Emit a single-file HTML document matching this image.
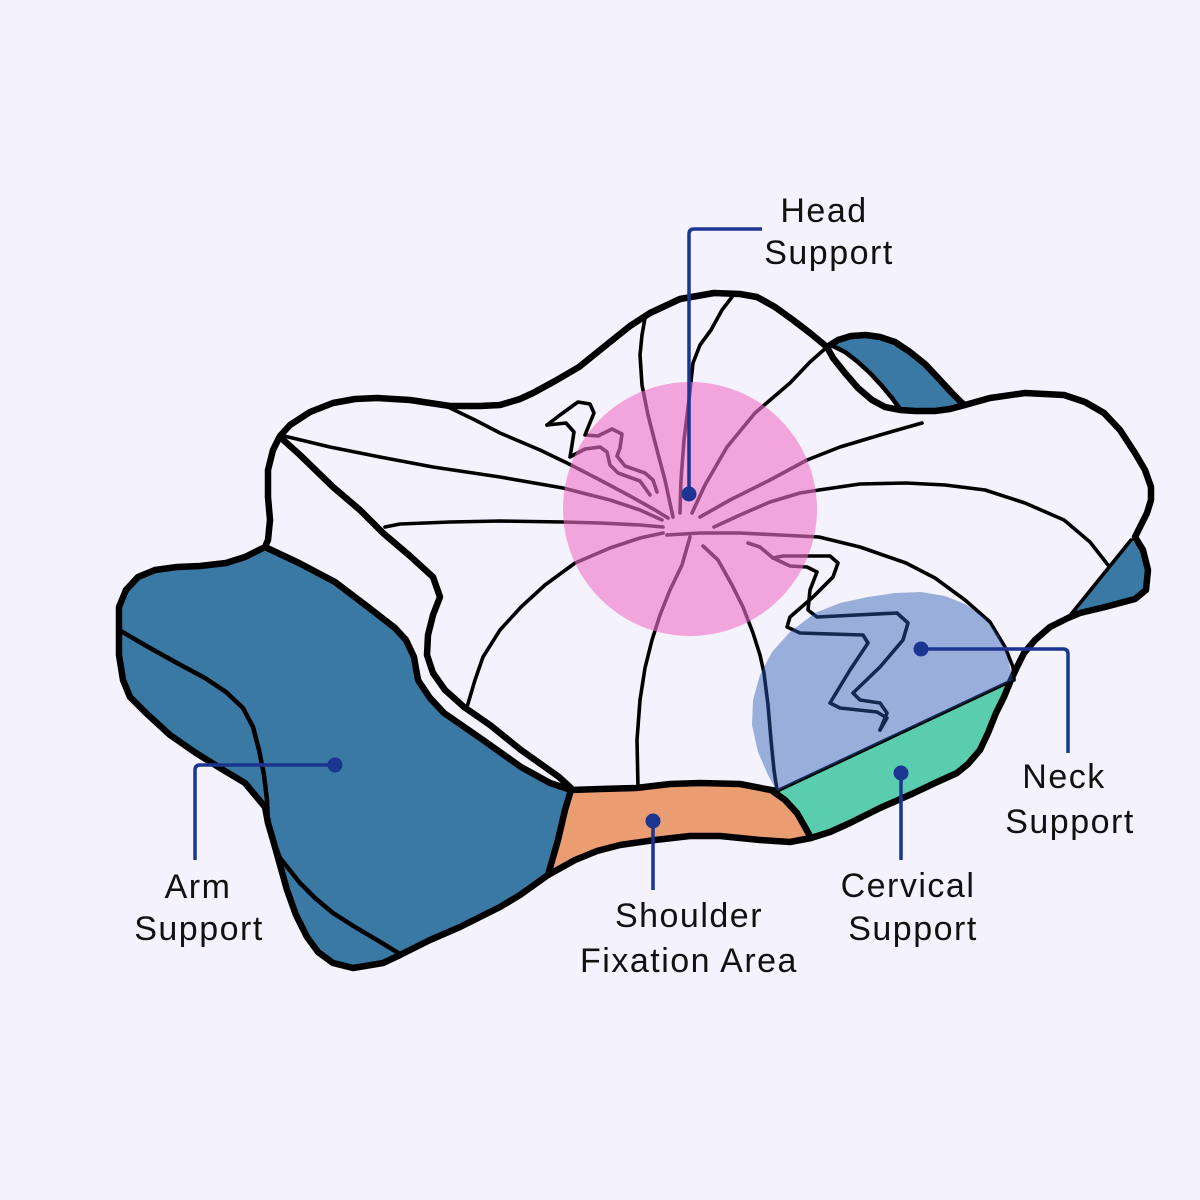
<!DOCTYPE html>
<html><head><meta charset="utf-8"><style>
html,body{margin:0;padding:0;background:#f4f3fd;}
svg{display:block;}
text{font-family:"Liberation Sans",sans-serif;font-size:34px;letter-spacing:1.5px;fill:#111;}
</style></head><body>
<svg width="1200" height="1200" viewBox="0 0 1200 1200" xmlns="http://www.w3.org/2000/svg">
<rect width="1200" height="1200" fill="#f4f3fd"/>

<!-- fills -->
<polygon fill="#3a79a3" points="265,547 299,563 335,582 368,607 395,628 406,640 414,657 418,680 430,698 444,713 483,740 521,767 550,783 571,790 565,810 558,840 548,875 520,895 500,907 460,927 430,940 400,955 383,963 353,968 333,963 318,952 307,937 296,915 287,890 280,865 273,840 268,823 265,807 245,783 220,768 196,753 170,735 146,713 130,697 123,680 119,655 119,630 119,607 126,590 138,577 155,570 177,567 200,566 226,563 245,557"/>
<polygon fill="#eb9d72" points="571,790 600,789 636,788 670,784 700,783 740,784 771,790 785,800 797,813 805,827 811,838 790,842 760,840 720,836 690,836 655,840 620,845 597,851 575,860 548,875 558,840 565,810"/>
<polygon fill="#5bcdaf" points="777,791 1013,680 1011,680 1004,697 996,713 988,733 980,750 968,764 957,773 935,783 914,793 880,808 850,823 830,832 811,838 805,827 797,813 785,800"/>
<polygon fill="#3a79a3" points="831,345 838,340 851,336 866,335 880,337 895,342 910,352 925,364 940,380 952,393 962,403 965,405 950,409 935,411 915,411 900,409 892,398 882,386 870,373 858,362 845,352"/>
<polygon fill="#3a79a3" points="1131,540 1135,537 1143,550 1148,570 1146,590 1135,599 1105,607 1080,613 1068,618"/>

<!-- thin radiating lines -->
<g fill="none" stroke="#000" stroke-width="3.6" stroke-linejoin="round" stroke-linecap="round">
<polyline points="280,435 330,447 380,457 433,467 500,477 563,488 610,500 640,510 662,520"/>
<polyline points="450,408 475,420 500,433 540,450 567,463 600,480 630,496 655,510 668,518"/>
<polyline points="385,527 400,524 450,522 500,521 563,522 600,523 640,525 663,527"/>
<polyline points="467,707 475,680 483,657 500,630 521,607 545,585 575,563 610,548 640,538 663,533"/>
<polyline points="690,537 682,565 670,590 660,615 652,640 645,668 640,700 637,740 638,788"/>
<polyline points="703,546 718,560 732,585 743,607 753,633 760,655 764,673 768,705 771,740 774,770 777,790"/>
<polyline points="667,535 700,533 740,533 780,535 819,537 860,547 906,563 935,578 965,600 990,622 1005,647 1013,667 1014,680"/>
<polyline points="714,527 740,515 770,502 800,493 819,490 860,484 906,483 945,485 985,490 1025,503 1064,520 1090,542 1108,565"/>
<polyline points="700,517 730,500 770,480 807,460 840,447 880,435 922,423"/>
<polyline points="692,513 705,485 727,447 755,413 790,383 810,362 827,347"/>
<polyline points="680,513 681,480 684,440 689,400 693,363 700,345 711,330 722,310 732,297"/>
<polyline points="673,517 665,480 657,450 648,415 642,385 640,355 642,335 645,318"/>
<!-- squiggle 1 -->
<polyline points="547,425 560,415 578,402 590,404 594,413 587,430 585,435 598,436 612,429 622,434 620,448 617,456 625,466 645,473 653,480 657,492"/>
<polyline points="547,425 566,423 574,432 572,445 570,457 585,449 600,447 607,452 610,465 618,473 640,481 650,495"/>
<!-- squiggle 2 -->
<polyline points="748,543 760,547 773,558 790,566 807,567 817,572 810,590 808,610 817,617 897,613 908,623 903,640 880,667 853,693 860,700 880,703 887,713 880,730"/>
<polyline points="773,558 783,556 830,556 838,563 833,577 813,597 790,617 787,627 800,633 863,635 868,643 850,670 830,703 840,708 877,712 887,718 880,730"/>
<!-- green diagonal & wedge inner -->
<polyline points="777,791 1013,680"/>
<polyline points="1131,540 1068,618"/>
</g>

<!-- arm inner lines -->
<g fill="none" stroke="#000" stroke-width="4.5" stroke-linejoin="round" stroke-linecap="round">
<polyline points="119,630 150,648 177,663 205,678 226,692 243,708 253,727 259,750 264,775 267,800 268,823"/>
<polyline points="274,842 280,858 300,883 315,898 333,913 355,927 377,940 400,954"/>
<polyline points="831,345 845,352 858,362 870,373 882,386 892,398 900,409"/>
</g>

<!-- thick outlines -->
<g fill="none" stroke="#000" stroke-width="6.5" stroke-linejoin="round" stroke-linecap="round">
<polygon points="265,547 268,540 270,520 268,497 268,470 273,450 280,436 290,425 310,412 333,403 355,399 377,398 410,400 450,406 480,406 500,405 520,399 533,393 555,381 579,367 610,342 630,326 650,313 680,299 714,293 740,294 757,297 775,307 793,320 810,333 827,347 833,358 845,373 858,388 872,400 885,407 900,410 915,411 935,411 950,409 965,405 990,398 1025,393 1064,395 1085,402 1104,413 1120,430 1135,453 1145,470 1151,487 1151,500 1147,513 1140,527 1135,537 1143,550 1148,570 1146,590 1135,599 1105,607 1080,613 1068,618 1050,627 1035,640 1024,653 1017,667 1011,680 1004,697 996,713 988,733 980,750 968,764 957,773 935,783 914,793 880,808 850,823 830,832 811,838 790,842 760,840 720,836 690,836 655,840 620,845 597,851 575,860 548,875 520,895 500,907 460,927 430,940 400,955 383,963 353,968 333,963 318,952 307,937 296,915 287,890 280,865 273,840 268,823 265,807 245,783 220,768 196,753 170,735 146,713 130,697 123,680 119,655 119,630 119,607 126,590 138,577 155,570 177,567 200,566 226,563 245,557"/>
<polyline points="265,547 299,563 335,582 368,607 395,628 406,640 414,657 418,680 430,698 444,713 483,740 521,767 550,783 571,790 600,789 636,788 670,784 700,783 740,784 771,790 777,791"/>
<polyline points="771,790 785,800 797,813 805,827 811,838"/>
<polyline points="571,790 565,810 558,840 548,875"/>
<polyline points="827,347 838,340 851,336 866,335 880,337 895,342 910,352 925,364 940,380 952,393 962,403 965,405"/>
<polyline points="280,437 300,455 333,487 360,510 383,533 410,556 433,577 440,597 433,615 428,635 427,655 433,673 445,690 464,707 490,725 521,750 545,767 559,777 571,788"/>
</g>

<!-- pink head area -->
<circle cx="690" cy="509" r="127" fill="#f070c8" fill-opacity="0.6"/>

<!-- neck blob -->
<polygon fill="#2d5ab4" fill-opacity="0.45" points="777,791 768,775 758,752 752,725 753,700 760,675 772,652 790,632 815,613 840,603 868,597 895,593 921,592 945,596 965,604 985,618 998,635 1007,655 1013,680"/>

<!-- connectors -->
<g fill="none" stroke="#1b3590" stroke-width="3.5" stroke-linecap="butt" stroke-linejoin="round">
<path d="M762,229 L694,229 Q689,229 689,234 L689,494"/>
<path d="M921,649 L1063,649 Q1068,649 1068,654 L1068,753"/>
<path d="M901,773 L901,860"/>
<path d="M653,821 L653,890"/>
<path d="M335,765 L200,765 Q195,765 195,770 L195,860"/>
</g>
<g fill="#1b3590">
<circle cx="689" cy="494" r="7.5"/>
<circle cx="921" cy="649" r="7.5"/>
<circle cx="901" cy="773" r="7.5"/>
<circle cx="653" cy="821" r="7.5"/>
<circle cx="335" cy="765" r="7.5"/>
</g>

<!-- labels -->
<g text-anchor="middle">
<text x="824" y="222">Head</text>
<text x="829" y="264">Support</text>
<text x="1064" y="788">Neck</text>
<text x="1070" y="833">Support</text>
<text x="908" y="897">Cervical</text>
<text x="913" y="940">Support</text>
<text x="689" y="927">Shoulder</text>
<text x="689" y="972">Fixation Area</text>
<text x="198" y="898">Arm</text>
<text x="199" y="940">Support</text>
</g>
</svg>
</body></html>
